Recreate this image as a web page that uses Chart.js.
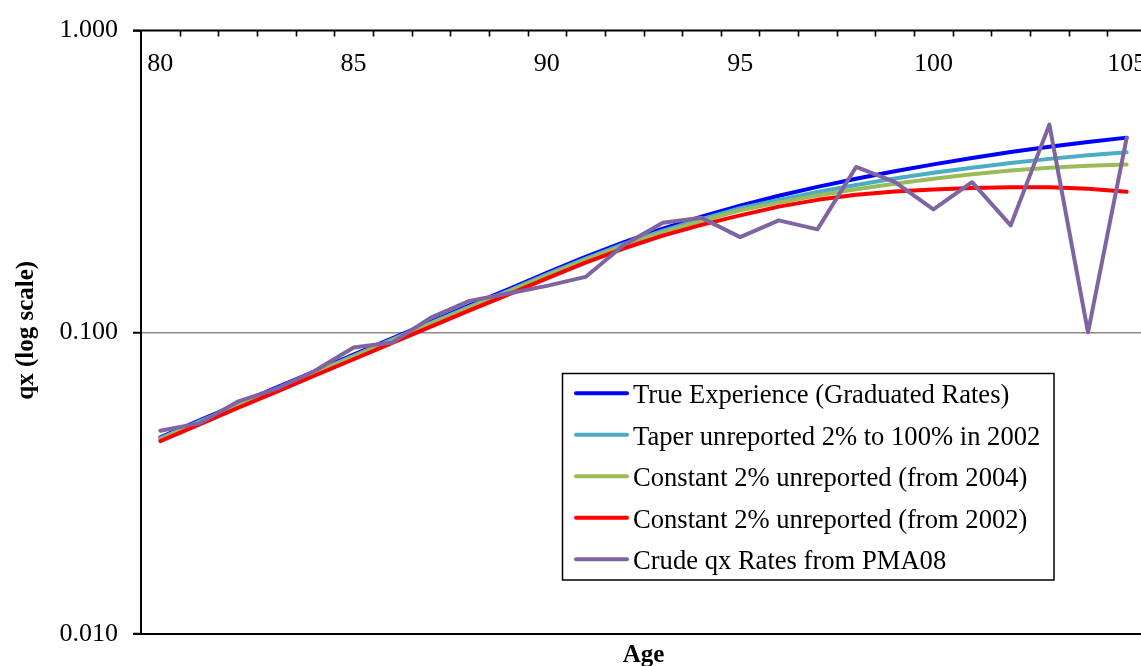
<!DOCTYPE html>
<html>
<head>
<meta charset="utf-8">
<title>qx by age (log scale)</title>
<script src="https://cdn.jsdelivr.net/npm/chart.js@4.4.0/dist/chart.umd.min.js"></script>
<style>
  html, body { margin: 0; padding: 0; background: #fff; overflow: hidden; }
  #wrap { width: 1150px; height: 666px; }
  canvas { display: block; }
</style>
</head>
<body>
<div id="wrap"><canvas id="chart" width="1150" height="666"></canvas></div>
<script>
// Ages on the category axis
const ages = [80, 81, 82, 83, 84, 85, 86, 87, 88, 89, 90, 91, 92, 93, 94, 95, 96, 97, 98, 99, 100, 101, 102, 103, 104, 105];

// Mortality rates qx by age
const trueExperience = [0.0449, 0.0510, 0.0578, 0.0656, 0.0743, 0.0843, 0.0955, 0.1083, 0.1228, 0.1387, 0.1573, 0.1777, 0.1991, 0.2207, 0.2417, 0.2630, 0.2834, 0.3034, 0.3229, 0.3419, 0.3602, 0.3783, 0.3957, 0.4123, 0.4276, 0.4418];
const taperUnreported = [0.0446, 0.0506, 0.0574, 0.0651, 0.0738, 0.0836, 0.0948, 0.1075, 0.1217, 0.1373, 0.1555, 0.1754, 0.1962, 0.2172, 0.2373, 0.2577, 0.2748, 0.2916, 0.3078, 0.3234, 0.3377, 0.3513, 0.3639, 0.3757, 0.3861, 0.3950];
const constantFrom2004 = [0.0442, 0.0502, 0.0569, 0.0646, 0.0732, 0.0830, 0.0941, 0.1067, 0.1208, 0.1362, 0.1541, 0.1737, 0.1940, 0.2144, 0.2339, 0.2536, 0.2691, 0.2839, 0.2979, 0.3109, 0.3229, 0.3339, 0.3435, 0.3513, 0.3567, 0.3597];
const constantFrom2002 = [0.0436, 0.0494, 0.0561, 0.0635, 0.0719, 0.0814, 0.0923, 0.1044, 0.1182, 0.1333, 0.1510, 0.1701, 0.1899, 0.2092, 0.2271, 0.2440, 0.2609, 0.2748, 0.2859, 0.2930, 0.2974, 0.3008, 0.3027, 0.3027, 0.2992, 0.2921];
const crudePMA08 = [0.0472, 0.0499, 0.0589, 0.0649, 0.0746, 0.0891, 0.0925, 0.1119, 0.1271, 0.1344, 0.1425, 0.1526, 0.1950, 0.2307, 0.2396, 0.2068, 0.2349, 0.2194, 0.3532, 0.3151, 0.2555, 0.3144, 0.2262, 0.4879, 0.1000, 0.4412];

const seriesLabels = [
  'True Experience (Graduated Rates)',
  'Taper unreported 2% to 100% in 2002',
  'Constant 2% unreported (from 2004)',
  'Constant 2% unreported (from 2002)',
  'Crude qx Rates from PMA08'
];
const seriesColors = ['#0000FF', '#4BACC6', '#9BBB59', '#FF0000', '#8064A2'];

// Axis labels
const xTickValues = [80, 85, 90, 95, 100, 105];
const yTickValues = [0.01, 0.1, 1];
const xTitle = 'Age';
const yTitle = 'qx (log scale)';

const FONT = '"Liberation Serif", "Times New Roman", serif';
const LINE_W = 4;

function points(values) {
  return ages.map((a, i) => ({ x: a, y: values[i] }));
}

const seriesValues = [trueExperience, taperUnreported, constantFrom2004, constantFrom2002, crudePMA08];
const datasets = seriesValues.map((vals, i) => ({
  label: seriesLabels[i],
  data: points(vals),
  borderColor: seriesColors[i],
  backgroundColor: seriesColors[i],
  borderWidth: LINE_W,
  pointRadius: 0,
  tension: 0,
  borderJoinStyle: 'round',
  borderCapStyle: 'round',
  fill: false,
  order: seriesValues.length - 1 - i
}));

// Frame, top category ticks and labels, axis titles and the boxed legend
const decorations = {
  id: 'decorations',
  afterDatasetsDraw(chart) {
    const { ctx, chartArea: ca, scales } = chart;
    const x = scales.x;
    ctx.save();

    // top and bottom frame lines
    ctx.strokeStyle = '#000';
    ctx.lineWidth = 2;
    ctx.beginPath();
    ctx.moveTo(ca.left - 8, ca.top);
    ctx.lineTo(ca.right, ca.top);
    ctx.moveTo(ca.left - 8, ca.bottom);
    ctx.lineTo(ca.right, ca.bottom);
    ctx.stroke();

    // tick marks between age categories, pointing into the plot
    ctx.lineWidth = 1.6;
    ctx.beginPath();
    for (let b = x.min + 1; b < x.max; b += 1) {
      const px = Math.round(x.getPixelForValue(b)) + 0.5;
      ctx.moveTo(px, ca.top);
      ctx.lineTo(px, ca.top + 6);
    }
    ctx.stroke();

    // age labels under the top axis
    ctx.fillStyle = '#000';
    ctx.font = '26px ' + FONT;
    ctx.textAlign = 'center';
    ctx.textBaseline = 'alphabetic';
    xTickValues.forEach(v => {
      ctx.fillText(String(v), x.getPixelForValue(v), ca.top + 40);
    });

    // axis titles
    ctx.font = 'bold 25px ' + FONT;
    ctx.fillText(xTitle, (ca.left + ca.right) / 2, 662);
    ctx.save();
    ctx.translate(27, (ca.top + ca.bottom) / 2 - 2);
    ctx.rotate(-Math.PI / 2);
    ctx.textBaseline = 'middle';
    ctx.fillText(yTitle, 0, 0);
    ctx.restore();

    // legend box
    const lx = 562.5, ly = 373.5, lw = 491.5, lh = 206.5;
    ctx.fillStyle = '#fff';
    ctx.fillRect(lx, ly, lw, lh);
    ctx.strokeStyle = '#000';
    ctx.lineWidth = 1.5;
    ctx.strokeRect(lx, ly, lw, lh);
    ctx.font = '26.6px ' + FONT;
    ctx.textAlign = 'left';
    ctx.textBaseline = 'alphabetic';
    chart.data.datasets.forEach((ds, i) => {
      const ry = 393.3 + i * 41.5;
      ctx.strokeStyle = ds.borderColor;
      ctx.lineWidth = LINE_W;
      ctx.lineCap = 'round';
      ctx.beginPath();
      ctx.moveTo(576, ry);
      ctx.lineTo(627, ry);
      ctx.stroke();
      ctx.fillStyle = '#000';
      ctx.fillText(ds.label, 633, ry + 10);
    });
    ctx.restore();
  }
};

new Chart(document.getElementById('chart'), {
  type: 'line',
  data: { datasets },
  options: {
    responsive: false,
    devicePixelRatio: 1,
    animation: false,
    layout: { padding: { left: 0, top: 29, right: 4, bottom: 32 } },
    plugins: { legend: { display: false }, tooltip: { enabled: false } },
    scales: {
      x: {
        type: 'linear',
        min: 79.5,
        max: 105.5,
        display: false
      },
      y: {
        type: 'logarithmic',
        min: 0.01,
        max: 1,
        afterFit: s => { s.width = 141; },
        afterBuildTicks: s => { s.ticks = yTickValues.map(v => ({ value: v })); },
        border: { display: true, color: '#000', width: 2 },
        grid: {
          color: c => (c.tick && c.tick.value === 0.1 ? '#8a8a8a' : 'rgba(0,0,0,0)'),
          lineWidth: 1.5,
          drawTicks: true,
          tickLength: 8,
          tickColor: '#000',
          tickWidth: 2
        },
        ticks: {
          autoSkip: false,
          padding: 15,
          color: '#000',
          font: { family: FONT, size: 26 },
          callback: v => Number(v).toFixed(3)
        }
      }
    }
  },
  plugins: [decorations]
});
</script>
</body>
</html>
